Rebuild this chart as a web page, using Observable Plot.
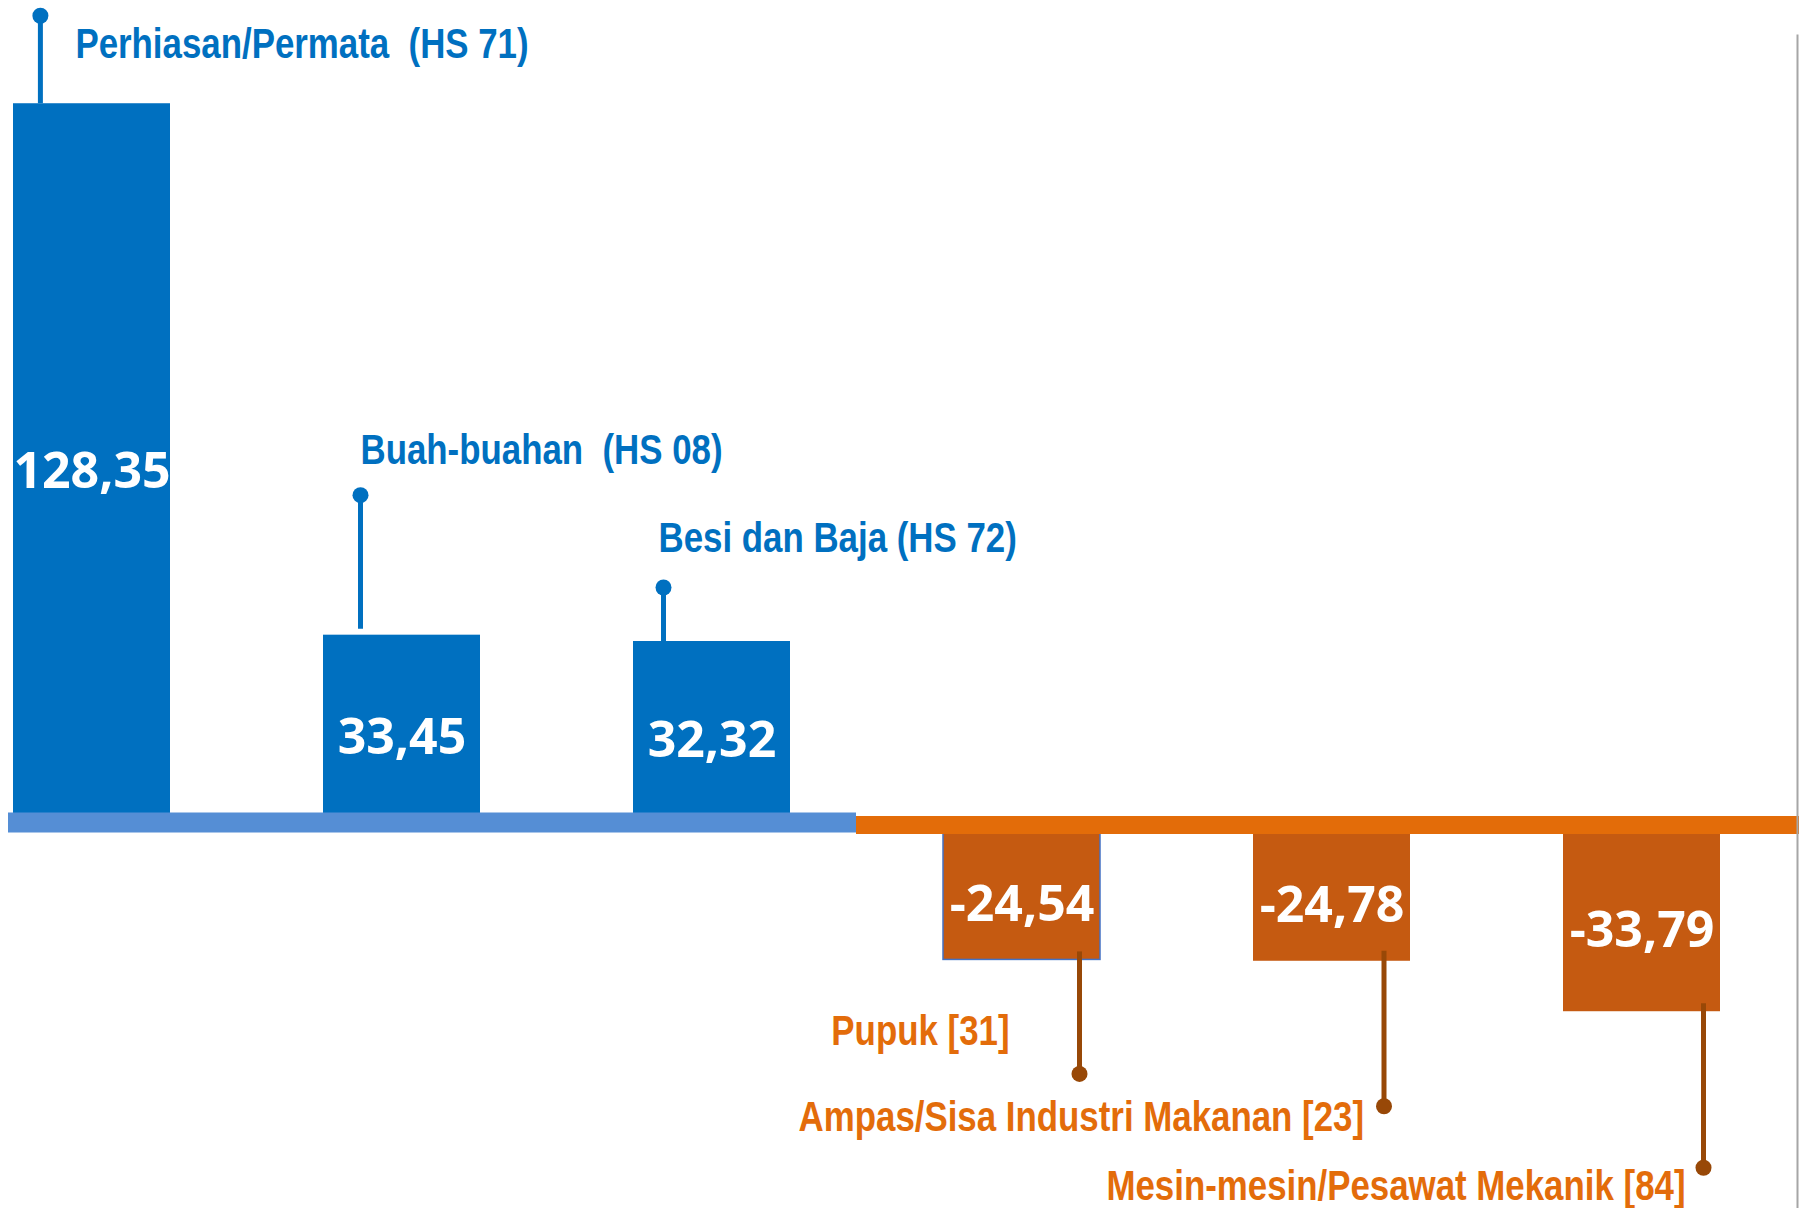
<!DOCTYPE html>
<html>
<head>
<meta charset="utf-8">
<script src="https://cdn.jsdelivr.net/npm/d3@7"></script>
<script src="https://cdn.jsdelivr.net/npm/@observablehq/plot@0.6"></script>
<style>
  html, body { margin: 0; padding: 0; background: #ffffff; overflow: hidden; }
  #chart svg { display: block; }
</style>
</head>
<body>
<div id="chart"></div>
<script>
// ---- data ----
const categories = [
  "Perhiasan/Permata  (HS 71)",
  "Buah-buahan  (HS 08)",
  "Besi dan Baja (HS 72)",
  "Pupuk [31]",
  "Ampas/Sisa Industri Makanan [23]",
  "Mesin-mesin/Pesawat Mekanik [84]"
];
const values = [128.35, 33.45, 32.32, -24.54, -24.78, -33.79];
const valueLabels = ["128,35", "33,45", "32,32", "-24,54", "-24,78", "-33,79"];

// ---- annotation layout (pixels) ----
const stemDx    = [-51.6, -41.5, -48.5, 57.5, 52, 61.5];
const stemStart = [0, 6, 0, -8, -10, -8];
const stemLen   = [88, 140, 54, 114, 145, 156];
const labelDx   = [35, 0, -5, -70, -20, -18];
const labelDy   = [29, -45, -49, -42, 11, 19];

const W = 1806, H = 1208;
const yMin = -386 / 5.6, yMax = 822 / 5.6;
const ppu = H / (yMax - yMin);

const BLUE = "#0070C0", BLUE_BASE = "#558ED5";
const ORANGE_BAR = "#C55A11", ORANGE_BASE = "#E36C09", ORANGE_TXT = "#E36C0A", BROWN = "#984807";

const data = categories.map((c, i) => {
  const v = values[i];
  const s = v >= 0 ? 1 : -1;
  return {
    cat: c, value: v, label: valueLabels[i], i,
    pos: v >= 0,
    start: v + s * stemStart[i] / ppu,
    tip: v + s * stemLen[i] / ppu
  };
});
const pos = data.filter(d => d.pos);
const neg = data.filter(d => !d.pos);

const labelFont = "'Liberation Sans', Arial, sans-serif";
const valueFont = "'Open Sans', 'Noto Sans', sans-serif";

// narrow the label glyphs (Arial Narrow look) around each text's anchor point
const narrow = (index, scales, values, dims, context, next) => {
  const g = next(index, scales, values, dims, context);
  d3.select(g).selectAll("text").each(function () {
    const t = this.getAttribute("transform") || "";
    this.setAttribute("transform", t + " scale(0.83,1)");
  });
  return g;
};

const marks = [
  Plot.barY(data, {
    x: "cat", y: "value",
    fill: d => d.pos ? BLUE : ORANGE_BAR,
    stroke: d => d.i === 3 ? "#4472C4" : "none",
    strokeWidth: 1.5
  }),
  // baselines
  Plot.ruleY([0], {stroke: BLUE_BASE, strokeWidth: 20, insetLeft: -5, insetRight: 864}),
  Plot.ruleY([0], {stroke: ORANGE_BASE, strokeWidth: 18, dy: 2.5, insetLeft: 843, insetRight: -79}),
  // right border line
  Plot.frame({anchor: "right", stroke: "#A6A6A6", strokeWidth: 2, insetRight: -77, insetTop: 35}),
  // value labels
  Plot.text(pos, {x: "cat", y: d => d.value / 2, text: "label", dy: 9,
    fill: "white", fontSize: 50, fontWeight: "bold", fontFamily: valueFont}),
  Plot.text(neg, {x: "cat", y: d => d.value / 2, text: "label", dy: 14,
    fill: "white", fontSize: 50, fontWeight: "bold", fontFamily: valueFont}),
];

// stems, dots, labels per item
data.forEach(d => {
  const col = d.pos ? BLUE : BROWN;
  marks.push(
    Plot.ruleX([d], {x: "cat", y1: "start", y2: "tip", stroke: col, strokeWidth: 5, dx: stemDx[d.i]}),
    Plot.dot([d], {x: "cat", y: "tip", r: 8, fill: col, stroke: "none", dx: stemDx[d.i]}),
    Plot.text([d], {x: "cat", y: "tip", text: "cat",
      dx: stemDx[d.i] + labelDx[d.i], dy: labelDy[d.i],
      textAnchor: d.pos ? "start" : "end",
      fill: d.pos ? BLUE : ORANGE_TXT,
      fontSize: 42, fontWeight: "bold", fontFamily: labelFont,
      render: narrow})
  );
});

const chart = Plot.plot({
  width: W, height: H,
  marginLeft: 13, marginRight: 86, marginTop: 0, marginBottom: 0,
  x: {type: "band", domain: categories, paddingInner: 0.494, paddingOuter: 0, axis: null},
  y: {domain: [yMin, yMax], axis: null},
  color: {type: "identity"},
  style: {background: "white", overflow: "visible"},
  marks
});
document.getElementById("chart").appendChild(chart);
</script>
</body>
</html>
